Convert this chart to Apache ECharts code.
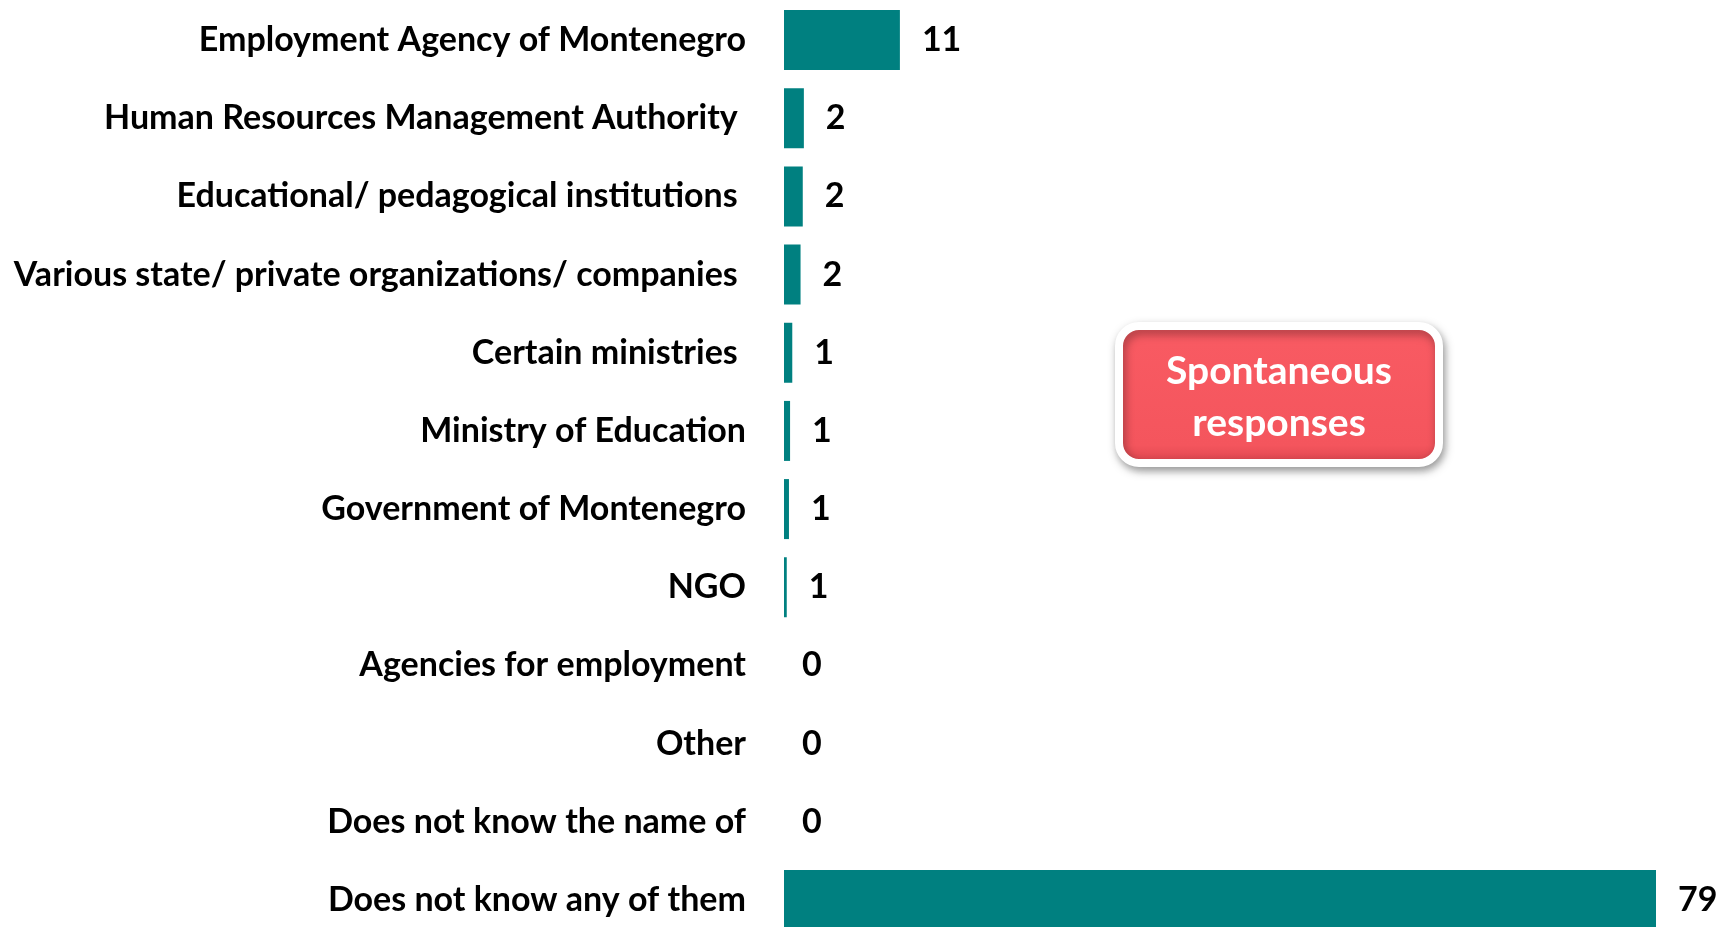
<!DOCTYPE html>
<html>
<head>
<meta charset="utf-8">
<script src="https://cdn.jsdelivr.net/npm/echarts@6/dist/echarts.min.js"></script>
<style>
  html, body { margin: 0; padding: 0; background: #fff; }
  #chart { width: 1718px; height: 927px; }
</style>
</head>
<body>
<div id="chart"></div>
<script>
// categories top to bottom (trailing spaces as in the original labels)
const categories = [
  'Employment Agency of Montenegro',
  'Human Resources Management Authority ',
  'Educational/ pedagogical institutions ',
  'Various state/ private organizations/ companies ',
  'Certain ministries ',
  'Ministry of Education',
  'Government of Montenegro',
  'NGO',
  'Agencies for employment',
  'Other',
  'Does not know the name of',
  'Does not know any of them'
];
// bar lengths
const values = [10.5, 1.8, 1.7, 1.5, 0.75, 0.55, 0.45, 0.25, 0, 0, 0, 79];
// numbers printed next to the bars
const printed = ['11', '2', '2', '2', '1', '1', '1', '1', '0', '0', '0', '79'];

const TEAL = '#008080';
const FONT = 'Lato, "Open Sans", sans-serif';

const chart = echarts.init(document.getElementById('chart'));
chart.setOption({
  animation: false,
  // the last bar runs off the bottom edge, as in the original slide
  grid: { left: 784, width: 872, top: 1, height: 938, outerBoundsMode: 'none' },
  xAxis: {
    type: 'value', min: 0, max: 79, show: false,
    splitLine: { show: false }
  },
  yAxis: {
    type: 'category', data: categories, inverse: true,
    axisLine: { show: false }, axisTick: { show: false },
    axisLabel: { color: '#000', fontSize: 34, fontWeight: 'bold', fontFamily: FONT,
      margin: 38, padding: [6, 0, 0, 0] }
  },
  series: [{
    type: 'bar',
    data: values.map((v) => ({ value: v, label: { distance: v > 0 ? 22 : 18 } })),
    barWidth: 60,
    itemStyle: { color: TEAL },
    label: {
      show: true, position: 'right', padding: [6, 0, 0, 0],
      color: '#000', fontSize: 34, fontWeight: 'bold', fontFamily: FONT,
      formatter: (p) => printed[p.dataIndex]
    }
  }],
  graphic: [{
    type: 'rect',
    shape: { x: 1119, y: 326, width: 320, height: 137, r: 20 },
    style: {
      fill: {
        type: 'linear', x: 0, y: 0, x2: 0, y2: 1,
        colorStops: [
          { offset: 0, color: '#F95B63' },
          { offset: 0.85, color: '#F4555D' },
          { offset: 1, color: '#D9444C' }
        ]
      },
      stroke: '#fff', lineWidth: 8,
      shadowBlur: 10, shadowOffsetX: 2, shadowOffsetY: 4,
      shadowColor: 'rgba(0,0,0,0.35)'
    }
  }, {
    type: 'text',
    x: 1279, y: 397,
    style: {
      text: 'Spontaneous\nresponses',
      fill: '#fff', fontSize: 39, fontWeight: 'bold', fontFamily: FONT,
      align: 'center', verticalAlign: 'middle', lineHeight: 52
    }
  }]
});
</script>
</body>
</html>
